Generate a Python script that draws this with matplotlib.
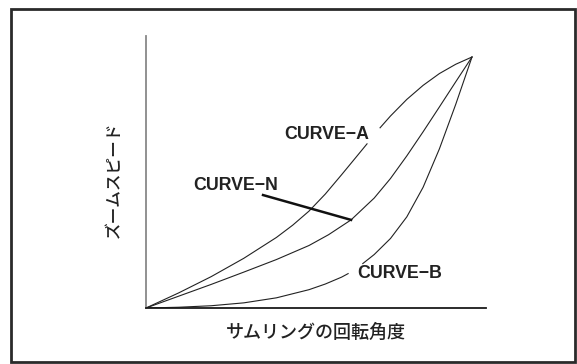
import matplotlib.pyplot as plt
from matplotlib.patches import Rectangle

# curve values (x: ring angle, y: zoom speed, peak = 1)
curve_a_x = [0, 0.1, 0.2, 0.3, 0.4, 0.45, 0.5, 0.55, 0.6, 0.64, 0.678,
             0.718, 0.75, 0.8, 0.85, 0.9, 0.95, 1.0]
curve_a_y = [0, 0.06, 0.125, 0.198, 0.281, 0.330, 0.386, 0.454, 0.531, 0.594, 0.654,
             0.718, 0.765, 0.831, 0.887, 0.934, 0.971, 1.0]
curve_a_gap = 11   # index where the line breaks around the label

curve_n_x = [0, 0.1, 0.2, 0.3, 0.4, 0.5, 0.56, 0.629, 0.7, 0.75, 0.8, 0.85, 0.9, 0.95, 1.0]
curve_n_y = [0, 0.047, 0.094, 0.143, 0.193, 0.249, 0.292, 0.351, 0.438, 0.516, 0.606,
             0.702, 0.801, 0.901, 1.0]
curve_n_mark = 7   # point where the label leader touches

curve_b_x = [0, 0.1, 0.2, 0.3, 0.4, 0.5, 0.55, 0.6, 0.62,
             0.665, 0.7, 0.75, 0.8, 0.85, 0.9, 0.95, 1.0]
curve_b_y = [0, 0.003, 0.009, 0.0205, 0.0405, 0.073, 0.0955, 0.123, 0.137,
             0.177, 0.213, 0.277, 0.363, 0.481, 0.634, 0.811, 1.0]
curve_b_gap = 9

labels = ['CURVE\u2212A', 'CURVE\u2212N', 'CURVE\u2212B']
x_label = 'サムリングの回転角度'
y_label = 'ズームスピード'

W, H = 577, 364
fig = plt.figure(figsize=(W / 100, H / 100), dpi=100)
ax = fig.add_axes([146 / W, (H - 308) / H, 340 / W, 272 / H])

line_kw = dict(color='#222222', lw=0.8, solid_joinstyle='round')
ax.plot(curve_a_x[:curve_a_gap], curve_a_y[:curve_a_gap], **line_kw)
ax.plot(curve_a_x[curve_a_gap:], curve_a_y[curve_a_gap:], **line_kw)
ax.plot(curve_n_x, curve_n_y, **line_kw)
ax.plot(curve_b_x[:curve_b_gap], curve_b_y[:curve_b_gap], **line_kw)
ax.plot(curve_b_x[curve_b_gap:], curve_b_y[curve_b_gap:], **line_kw)

ax.set_xlim(0, 340 / 326)
ax.set_ylim(0, 272 / 251)
ax.set_xticks([])
ax.set_yticks([])
for s in ('top', 'right'):
    ax.spines[s].set_visible(False)
ax.spines['left'].set_color('#888888')
ax.spines['left'].set_linewidth(1.3)
ax.spines['bottom'].set_color('#1a1a1a')
ax.spines['bottom'].set_linewidth(1.3)

txt_kw = dict(family=['Liberation Sans', 'DejaVu Sans'], fontsize=12.8, fontweight='bold',
              color='#222222', ha='center', va='center')
ax.text(0.555, 0.693, labels[0], **txt_kw)
ax.text(0.276, 0.490, labels[1], **txt_kw)
ax.text(0.779, 0.139, labels[2], **txt_kw)

# leader from CURVE-N label to its curve
ax.plot([0.359, curve_n_x[curve_n_mark]], [0.450, curve_n_y[curve_n_mark]],
        color='#111111', lw=1.8)

cjk = ['Noto Sans CJK JP', 'DejaVu Sans']
fig.text(316 / W, 1 - 333 / H, x_label, family=cjk, fontsize=13, fontweight='medium',
         ha='center', va='center', color='#222222')
fig.text(114 / W, 1 - 180 / H, y_label, family=cjk, fontsize=12, fontweight='medium',
         rotation=90, ha='center', va='center', color='#222222')

# outer frame
fig.patches.append(Rectangle((10.5 / W, 1 - 362 / H), 564 / W, 353.5 / H,
                             transform=fig.transFigure, fill=False,
                             edgecolor='#2a2a2a', lw=2.0))

fig.savefig('out.png', dpi=100)
